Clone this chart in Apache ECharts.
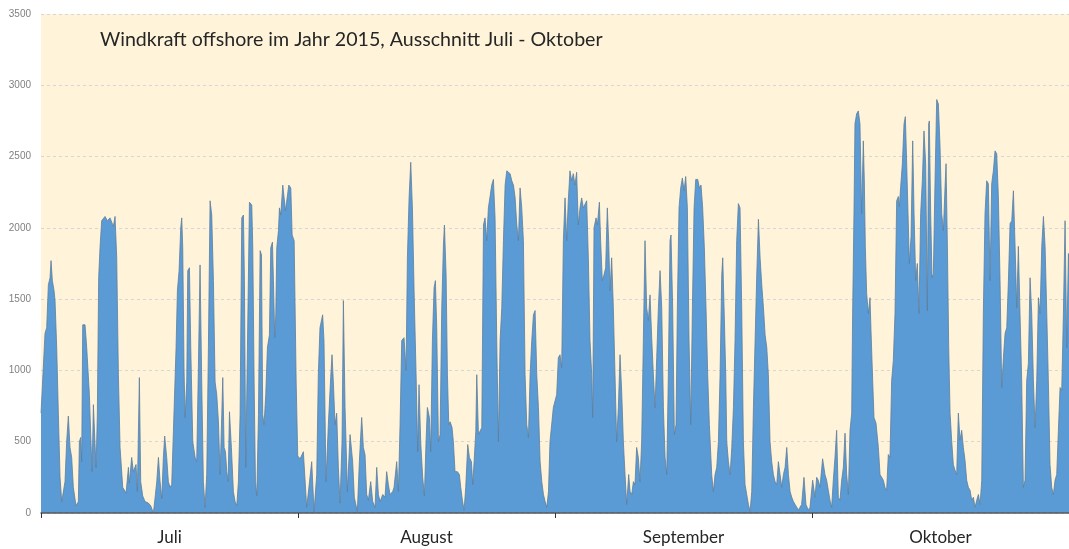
<!DOCTYPE html>
<html>
<head>
<meta charset="utf-8">
<script src="https://cdn.jsdelivr.net/npm/echarts@6/dist/echarts.min.js"></script>
<style>
html,body{margin:0;padding:0;background:#fff;}
#chart{width:1069px;height:549px;}
</style>
</head>
<body>
<div id="chart"></div>
<script>
// Month categories shown under the x axis
const monthLabels = ['Juli', 'August', 'September', 'Oktober'];
// Y axis scale (MW)
const yMin = 0, yMax = 3500, yStep = 500;
// Period length in days (1 July .. 31 October)
const periodDays = 123;
const chartTitle = 'Windkraft offshore im Jahr 2015, Ausschnitt Juli - Oktober';

// [day since 1 July, power in MW]
const julWind = [[0,700],[0.48,1260],[0.68,1300],[0.88,1600],[1.08,1650],[1.20,1770],[1.36,1630],[1.56,1560],[1.68,1490],[1.88,1160],[2.08,690],[2.28,250],[2.48,80],[2.68,80],[2.87,220],[3.07,500],[3.27,680],[3.47,460],[3.67,390],[3.87,180],[4.19,50],[4.47,80],[4.59,500],[4.75,530],[4.87,360],[4.99,1320],[5.27,1320],[5.47,1160],[5.59,1160],[5.79,830],[5.95,550],[6.11,290],[6.27,760],[6.43,530],[6.59,320],[6.74,690],[6.90,1650],[7.06,1860],[7.26,2050],[7.66,2080],[7.94,2050],[8.26,2070],[8.66,2010],[8.86,2080],[9.06,1790],[9.26,970],[9.46,460],[9.78,180],[10.18,140],[10.46,320],[10.57,210],[10.85,390],[11.05,290],[11.37,340],[11.53,150],[11.77,950],[11.93,220],[12.17,120],[12.45,80],[12.85,70],[13.13,50],[13.45,0],[13.69,130],[13.85,220],[14.05,390],[14.25,220],[14.45,100],[14.64,390],[14.80,540],[15.04,390],[15.24,220],[15.44,180],[15.64,200],[15.84,570],[16.16,1160],[16.32,1560],[16.52,1700],[16.72,2000],[16.84,2070],[16.96,1860],[17.12,990],[17.24,670],[17.44,920],[17.56,1700],[17.76,1720],[17.92,1160],[18.16,500],[18.44,390],[18.63,360],[18.83,1020],[19.03,1740],[19.23,920],[19.43,220],[19.63,40],[19.83,270],[20.03,1160],[20.23,2190],[20.43,2090],[20.63,1630],[20.83,920],[21.03,830],[21.23,640],[21.43,270],[21.63,690],[21.75,950],[21.91,460],[22.07,430],[22.23,290],[22.39,220],[22.55,710],[22.78,460],[23.02,150],[23.22,80],[23.42,50],[23.62,220],[23.82,690],[24.02,2070],[24.22,2090],[24.34,1630],[24.50,320],[24.70,1160],[24.94,2180],[25.22,2160],[25.34,1860],[25.50,920],[25.66,220],[25.82,120],[26.02,690],[26.22,1840],[26.38,1810],[26.53,690],[26.69,620],[26.89,830],[27.09,1160],[27.33,1250],[27.49,1860],[27.69,1900],[27.81,1630],[27.97,1230],[28.09,1390],[28.21,1860],[28.41,1980],[28.53,2140],[28.69,2090],[28.93,2300],[29.09,2300],[29.25,2120],[29.41,2120],[29.65,2300],[29.89,2280],[30.05,1950],[30.29,1910],[30.53,920],[30.72,400]];

const augWind = [[31.00,380],[31.39,430],[31.79,40],[32.39,360],[32.67,10],[32.99,270],[33.18,970],[33.38,1300],[33.70,1390],[33.86,1210],[34.10,220],[34.38,620],[34.66,950],[34.82,1110],[34.98,920],[35.18,620],[35.38,700],[35.58,320],[35.78,70],[36.02,500],[36.18,1490],[36.38,740],[36.66,150],[36.98,550],[37.29,360],[37.49,110],[37.85,10],[38.09,360],[38.37,670],[38.57,460],[38.77,410],[38.97,130],[39.17,90],[39.45,220],[39.69,80],[39.97,40],[40.17,320],[40.37,130],[40.57,80],[40.89,130],[41.16,110],[41.36,290],[41.56,200],[41.76,130],[42.08,150],[42.24,180],[42.56,360],[42.76,150],[42.96,620],[43.16,1210],[43.44,1230],[43.68,1000],[43.84,1790],[44.04,2210],[44.24,2460],[44.44,2140],[44.64,1560],[44.88,970],[45.07,430],[45.23,900],[45.43,500],[45.67,250],[45.87,120],[46.07,500],[46.23,740],[46.47,670],[46.63,430],[46.83,1210],[47.03,1580],[47.19,1630],[47.35,1300],[47.55,500],[47.75,550],[47.95,1440],[48.15,1880],[48.27,2020],[48.47,1670],[48.63,970],[48.79,620],[48.95,640],[49.18,600],[49.34,500],[49.54,290],[49.82,290],[50.06,270],[50.22,180],[50.42,90],[50.62,20],[50.82,180],[51.06,480],[51.26,390],[51.50,360],[51.66,200],[51.82,360],[52.02,570],[52.14,970],[52.34,550],[52.54,550],[52.74,600],[52.94,2020],[53.13,2070],[53.33,1910],[53.53,2140],[53.73,2140],[53.93,2300],[54.13,2340],[54.33,2070],[54.53,1210],[54.73,500],[54.93,1210],[55.13,1440],[55.33,1910],[55.53,2300],[55.73,2400],[55.93,2410],[56.13,2380],[56.33,2330],[56.53,2300],[56.73,2210],[56.93,2020],[57.12,1910],[57.32,2280],[57.52,2140],[57.72,1910],[57.92,970],[58.12,620],[58.32,530],[58.52,970],[58.72,1210],[58.92,1390],[59.12,1420],[59.32,970],[59.52,740],[59.72,360],[59.92,220],[60.12,130],[60.32,80],[60.52,40],[60.72,150],[60.90,500],[61.30,740],[61.70,830],[61.90,1090]];

const sepWind = [[62.10,1110],[62.30,1020],[62.50,1910],[62.70,2210],[62.90,1910],[63.09,2190],[63.29,2400],[63.49,2330],[63.69,2380],[63.89,2300],[64.09,2390],[64.29,2020],[64.49,2140],[64.69,2210],[64.89,2140],[65.09,2140],[65.29,2190],[65.49,1790],[65.69,1210],[65.89,970],[66.01,670],[66.17,2000],[66.41,2070],[66.57,2020],[66.81,2180],[66.96,1910],[67.16,1630],[67.36,1670],[67.56,1720],[67.76,2140],[67.92,1910],[68.08,1560],[68.28,1790],[68.48,1440],[68.68,970],[68.88,500],[69.08,740],[69.28,1110],[69.48,850],[69.68,500],[69.88,270],[70.08,60],[70.32,270],[70.48,150],[70.68,130],[70.88,220],[71.07,200],[71.27,460],[71.47,390],[71.67,220],[71.87,500],[72.07,1210],[72.27,1910],[72.47,1440],[72.67,1350],[72.87,1530],[73.07,1230],[73.27,970],[73.47,740],[73.67,1090],[73.87,1440],[74.07,1700],[74.27,1440],[74.47,740],[74.67,390],[74.87,270],[75.06,970],[75.26,1910],[75.38,1950],[75.58,1440],[75.78,550],[75.98,620],[76.14,1440],[76.34,2140],[76.54,2280],[76.74,2350],[76.94,2260],[77.14,2360],[77.34,2140],[77.54,1210],[77.74,620],[77.94,1440],[78.14,2140],[78.34,2340],[78.58,2340],[78.78,2280],[78.97,2300],[79.17,2140],[79.37,1860],[79.57,1440],[79.77,970],[79.97,620],[80.25,270],[80.45,150],[80.65,270],[80.85,320],[81.05,500],[81.25,970],[81.45,1670],[81.57,1790],[81.73,1440],[81.93,970],[82.05,500],[82.25,360],[82.45,270],[82.65,460],[82.85,740],[83.04,1210],[83.24,1910],[83.44,2170],[83.64,2140],[83.84,1440],[84.04,500],[84.24,200],[84.44,130],[84.64,60],[84.84,10],[85.04,150],[85.24,740],[85.44,1210],[85.64,1670],[85.84,2060],[86.04,1790],[86.24,1600],[86.44,1440],[86.64,1250],[86.84,1160],[87.03,970],[87.23,500],[87.43,360],[87.63,270],[87.83,220],[88.03,200],[88.23,360],[88.43,270],[88.63,180],[88.83,270],[89.03,320],[89.23,460],[89.43,270],[89.63,150],[89.83,110],[90.03,80],[90.23,60],[90.43,40],[90.63,20],[90.81,40],[91.01,60],[91.29,250],[91.53,60],[91.81,20]];

const oktWind = [[92.01,40],[92.33,230],[92.61,110],[92.81,250],[93.00,230],[93.20,180],[93.52,380],[93.80,270],[94.00,230],[94.20,160],[94.40,90],[94.60,40],[94.80,230],[95.00,390],[95.20,580],[95.40,110],[95.60,90],[95.80,230],[96.00,320],[96.20,560],[96.40,270],[96.60,130],[96.80,580],[97.00,700],[97.11,1400],[97.27,2100],[97.39,2730],[97.59,2800],[97.79,2820],[97.99,2730],[98.19,2100],[98.39,2610],[98.51,2330],[98.63,1870],[98.79,1540],[98.99,1400],[99.19,1510],[99.31,1280],[99.51,930],[99.67,670],[99.91,630],[100.19,460],[100.39,270],[100.59,250],[100.79,230],[100.98,180],[101.18,160],[101.38,410],[101.58,390],[101.78,930],[101.98,1070],[102.18,1400],[102.38,2190],[102.58,2220],[102.70,2150],[102.86,2290],[103.06,2450],[103.26,2730],[103.42,2780],[103.58,2450],[103.74,2100],[103.90,1750],[104.10,1940],[104.30,2610],[104.46,2100],[104.66,1630],[104.85,1750],[105.05,1400],[105.25,2100],[105.45,2330],[105.65,2680],[105.85,2450],[106.05,1420],[106.21,2730],[106.29,2750],[106.45,2100],[106.61,1650],[106.77,1680],[106.97,2330],[107.17,2900],[107.37,2870],[107.57,2570],[107.77,2100],[107.97,1980],[108.17,2290],[108.29,2450],[108.45,1870],[108.61,1160],[108.77,700],[108.96,510],[109.16,340],[109.36,300],[109.56,270],[109.76,700],[109.96,510],[110.16,580],[110.36,460],[110.56,370],[110.76,230],[110.96,180],[111.16,160],[111.36,90],[111.56,110],[111.76,40],[111.96,90],[112.16,130],[112.36,60],[112.56,230],[112.75,1400],[112.95,2100],[113.15,2330],[113.35,2310],[113.55,1630],[113.75,2310],[113.95,2400],[114.15,2540],[114.35,2520],[114.55,2220],[114.75,1630],[114.95,880],[115.15,1090],[115.35,1260],[115.55,1300],[115.75,1630],[115.95,2030],[116.15,2050],[116.35,2260],[116.55,1870],[116.75,1440],[116.94,1870],[117.14,1400],[117.34,930],[117.54,180],[117.74,230],[117.94,930],[118.14,1050],[118.34,1650],[118.54,1400],[118.74,930],[118.94,600],[119.14,930],[119.34,1510],[119.54,1400],[119.74,1870],[119.94,2080],[120.14,1870],[120.34,1400],[120.53,930],[120.73,340],[120.93,180],[121.13,130],[121.33,230],[121.53,270],[121.73,580],[121.93,880],[122.13,860],[122.33,1400],[122.53,2050],[122.73,1160],[122.93,1820],[123.00,1700]];

const windData = julWind.concat(augWind, sepWind, oktWind);

const chart = echarts.init(document.getElementById('chart'), null, {renderer: 'canvas'});
chart.setOption({
  animation: false,
  backgroundColor: '#ffffff',
  title: {
    text: chartTitle,
    left: 95,
    top: 25,
    textStyle: {fontFamily: 'Lato', fontSize: 19.6, fontWeight: 'normal', color: '#262626'}
  },
  grid: {
    left: 41, right: 0, top: 14, bottom: 36,
    show: true, backgroundColor: '#FFF4DA', borderWidth: 0
  },
  xAxis: [
    {
      type: 'category',
      data: monthLabels,
      boundaryGap: true,
      z: 10,
      axisLine: {show: true, lineStyle: {color: '#5a5a5a', width: 1.5}},
      axisTick: {show: true, length: 5, lineStyle: {color: '#333', width: 1}},
      axisLabel: {fontFamily: 'Lato', fontSize: 17, color: '#262626', margin: 16},
      splitLine: {show: false}
    },
    {
      type: 'value',
      min: 0,
      max: periodDays,
      show: false,
      splitLine: {show: false}
    }
  ],
  yAxis: {
    type: 'value',
    min: yMin,
    max: yMax,
    interval: yStep,
    axisLine: {show: false},
    axisTick: {show: false},
    axisLabel: {fontFamily: 'Liberation Sans', fontSize: 10, color: '#808080', margin: 10,
      formatter: function (v) { return String(v); }},
    splitLine: {show: true, lineStyle: {color: '#d6d6d6', type: [3, 3], width: 1}}
  },
  series: [{
    type: 'line',
    xAxisIndex: 1,
    data: windData,
    showSymbol: false,
    symbol: 'none',
    sampling: false,
    lineStyle: {color: '#5d7d9c', width: 0.8},
    areaStyle: {color: '#5B9BD5', opacity: 1},
    z: 2
  }]
});
</script>
</body>
</html>
